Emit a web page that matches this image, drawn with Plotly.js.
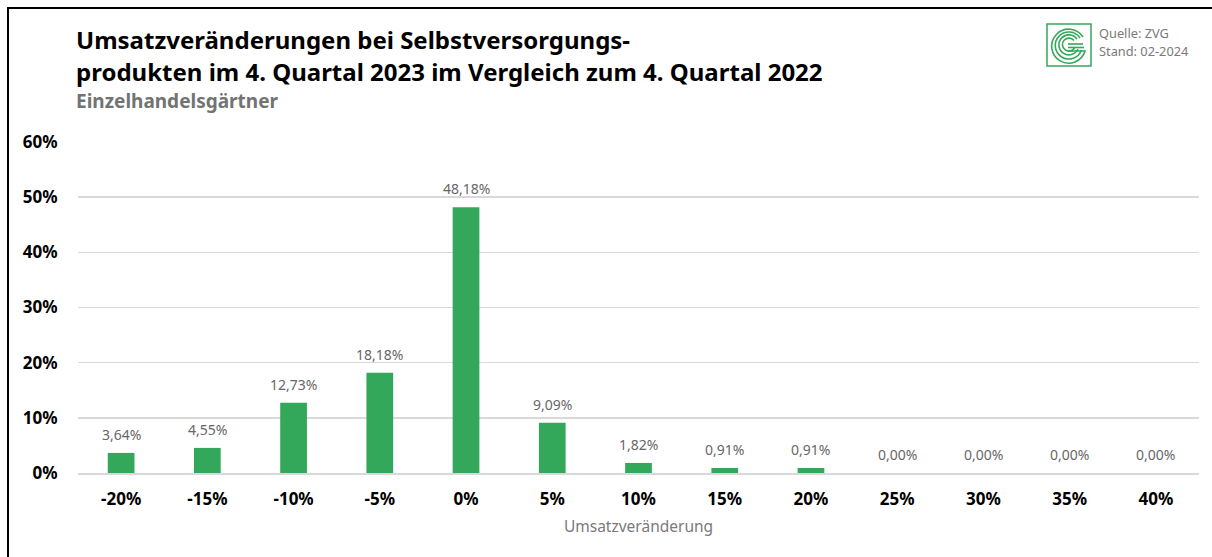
<!DOCTYPE html>
<html><head><meta charset="utf-8">
<script src="https://cdn.plot.ly/plotly-3.0.1.min.js"></script>
<style>
html,body{margin:0;padding:0;background:#fff;overflow:hidden;}
#chart{position:absolute;left:0;top:0;width:1212px;height:557px;}
#frame{position:absolute;left:7px;top:7px;width:1300px;height:700px;border-left:2px solid #000;border-top:2px solid #000;pointer-events:none;}
</style></head>
<body>
<div id="chart"></div>
<div id="frame"></div>
<script>
const categories = ['-20%','-15%','-10%','-5%','0%','5%','10%','15%','20%','25%','30%','35%','40%'];
const shares = [3.64, 4.55, 12.73, 18.18, 48.18, 9.09, 1.82, 0.91, 0.91, 0.00, 0.00, 0.00, 0.00];
const titleLines = ['Umsatzveränderungen bei Selbstversorgungs-', 'produkten im 4. Quartal 2023 im Vergleich zum 4. Quartal 2022'];
const subtitle = 'Einzelhandelsgärtner';
const sourceLines = ['Quelle: ZVG', 'Stand: 02-2024'];
const xTitle = 'Umsatzveränderung';

const FONT = 'Noto Sans, sans-serif';
const green = '#34a85a';

const logoSvg = `<svg xmlns="http://www.w3.org/2000/svg" width="46" height="44" viewBox="0 0 46 44">
<rect x="1" y="1" width="44" height="42" fill="#fff" stroke="#34a85a" stroke-width="1.5"/>
<g fill="none" stroke="#34a85a" stroke-width="1.6">
<path d="M37 14 A17 17 0 1 0 39 28 L22 28"/>
<path d="M34 15 A13.5 13.5 0 1 0 35.5 27 "/>
<path d="M31 16 A10 10 0 1 0 32 26"/>
<path d="M28 17.5 A6.5 6.5 0 1 0 28.5 25"/>
<path d="M22 24.5 L38 24.5"/>
<path d="M22 21 L37 21"/>
</g></svg>`;
const logoUri = 'data:image/svg+xml;base64,' + btoa(logoSvg);

const trace = {
  type: 'bar',
  x: categories,
  y: shares,
  marker: {color: green},
  width: 0.31,
  hoverinfo: 'skip'
};

const fmt = v => v.toFixed(2).replace('.', ',') + '%';
const valueLabels = categories.map((c, i) => ({
  xref: 'x', yref: 'y', x: c, y: shares[i], xanchor: 'center', yanchor: 'bottom',
  yshift: 7, showarrow: false, text: fmt(shares[i]),
  font: {family: FONT, size: 14, color: '#676767'}
}));

const layout = {
  width: 1212, height: 557,
  margin: {l: 78, r: 13, t: 142, b: 84},
  paper_bgcolor: '#fff', plot_bgcolor: '#fff',
  separators: ',.',
  showlegend: false,
  xaxis: {
    type: 'category',
    tickfont: {family: FONT, size: 17, color: '#000', weight: 'bold'},
    ticks: 'outside', ticklen: 10, tickcolor: 'rgba(0,0,0,0)',
    showline: true, linecolor: '#d9d9d9', linewidth: 1.5,
    title: {text: xTitle, font: {family: FONT, size: 15.5, color: '#7a7a7a'}, standoff: 12}
  },
  yaxis: {
    range: [0, 60], dtick: 10, ticksuffix: '%',
    tickfont: {family: FONT, size: 17, color: '#000', weight: 'bold'},
    ticks: 'outside', ticklen: 16, tickcolor: 'rgba(0,0,0,0)',
    gridcolor: '#d9d9d9', gridwidth: 1.5, zeroline: false
  },
  annotations: [
    {xref: 'paper', yref: 'paper', x: -0.003, y: 1, xanchor: 'left', yanchor: 'bottom',
     xshift: -1, yshift: 84, align: 'left', showarrow: false,
     text: '<b>' + titleLines[0] + '</b>', font: {family: FONT, size: 24, color: '#000'}},
    {xref: 'paper', yref: 'paper', x: -0.003, y: 1, xanchor: 'left', yanchor: 'bottom',
     xshift: -1, yshift: 52, align: 'left', showarrow: false,
     text: '<b>' + titleLines[1] + '</b>', font: {family: FONT, size: 24, color: '#000'}},
    {xref: 'paper', yref: 'paper', x: -0.003, y: 1, xanchor: 'left', yanchor: 'bottom',
     xshift: -1, yshift: 26, align: 'left', showarrow: false,
     text: '<b>' + subtitle + '</b>', font: {family: FONT, size: 19, color: '#737373'}},
    {xref: 'paper', yref: 'paper', x: 1, y: 1, xanchor: 'left', yanchor: 'bottom',
     xshift: -102, yshift: 98, align: 'left', showarrow: false,
     text: sourceLines[0], font: {family: FONT, size: 12.8, color: '#7a7a7a'}},
    {xref: 'paper', yref: 'paper', x: 1, y: 1, xanchor: 'left', yanchor: 'bottom',
     xshift: -102, yshift: 80, align: 'left', showarrow: false,
     text: sourceLines[1], font: {family: FONT, size: 12.8, color: '#7a7a7a'}}
  ].concat(valueLabels),
  images: [{
    source: logoUri, xref: 'paper', yref: 'paper',
    x: (1046 - 78) / 1121, y: (473 - 67) / 331,
    xanchor: 'left', yanchor: 'bottom',
    sizex: 46/1121, sizey: 44/331, sizing: 'stretch',
    layer: 'above'
  }]
};

Plotly.newPlot('chart', [trace], layout, {displayModeBar: false, staticPlot: true});
</script>
</body></html>
